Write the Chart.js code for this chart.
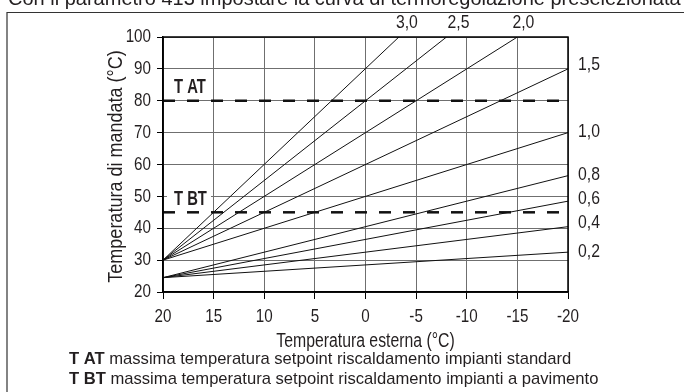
<!DOCTYPE html>
<html>
<head>
<meta charset="utf-8">
<script src="https://cdn.jsdelivr.net/npm/chart.js@4/dist/chart.umd.min.js"></script>
<style>
  html, body { margin: 0; padding: 0; background: #fff; }
  canvas { display: block; }
</style>
</head>
<body>
<canvas id="curveChart" width="684" height="392"></canvas>
<script>
// curve parameter, supply temp at +20 °C outside, and where each curve leaves the plot
const curveParams = ['3,0', '2,5', '2,0', '1,5', '1,0', '0,8', '0,6', '0,4', '0,2'];
const curveStart = [30, 30, 30, 30, 30, 24.5, 24.5, 24.5, 24.5];
const curveEndExt = [-3.3, -8, -15, -20, -20, -20, -20, -20, -20];
const curveEndMandata = [100, 100, 100, 90, 70, 56.5, 48.5, 40.5, 32.5];
const startExt = 20;

const limitNames = ['T AT', 'T BT'];
const limitValues = [80, 45];

const extTicks = [20, 15, 10, 5, 0, -5, -10, -15, -20];
const mandataTicks = [20, 30, 40, 50, 60, 70, 80, 90, 100];

const legendLines = [
    ['T AT', ' massima temperatura setpoint riscaldamento impianti standard'],
    ['T BT', ' massima temperatura setpoint riscaldamento impianti a pavimento']
];

const FONT = "'Liberation Sans', Arial, sans-serif";
const INK = '#231f20';

// no Arial Narrow installed, so squeeze the regular face around (x, y)
function narrowText(ctx, text, x, y, align, sx) {
    ctx.save();
    ctx.translate(x, y);
    ctx.scale(sx, 1);
    ctx.textAlign = align;
    ctx.fillText(text, 0, 0);
    ctx.restore();
}

const datasets = curveParams.map((p, i) => ({
    label: p,
    data: [{ x: startExt, y: curveStart[i] }, { x: curveEndExt[i], y: curveEndMandata[i] }],
    borderColor: '#111',
    borderWidth: 1,
    pointRadius: 0,
    tension: 0
}));
limitNames.forEach((name, i) => {
    datasets.push({
        label: name,
        data: [{ x: extTicks[0], y: limitValues[i] }, { x: extTicks[extTicks.length - 1], y: limitValues[i] }],
        borderColor: '#111',
        borderWidth: 2.5,
        borderDash: [12, 12],
        pointRadius: 0
    });
});

const extras = {
    id: 'extras',
    beforeDatasetsDraw(chart) {
        const { ctx, scales: { y } } = chart;
        // T AT / T BT labels, T BT sits on a white patch over the 50 grid line
        ctx.save();
        ctx.font = 'bold 20px ' + FONT;
        ctx.textBaseline = 'middle';
        ctx.fillStyle = '#fff';
        ctx.fillRect(167, y.getPixelForValue(limitValues[1]) - 23, 44, 19);
        ctx.fillStyle = INK;
        narrowText(ctx, limitNames[0], 174, y.getPixelForValue(limitValues[0]) - 13, 'left', 0.74);
        narrowText(ctx, limitNames[1], 174, y.getPixelForValue(limitValues[1]) - 13, 'left', 0.74);
        ctx.restore();
    },
    afterDraw(chart) {
        const { ctx, chartArea: a, scales: { x, y } } = chart;
        ctx.save();
        // plot frame (top/right in black)
        ctx.strokeStyle = '#000';
        ctx.lineWidth = 1.5;
        ctx.strokeRect(a.left, a.top, a.right - a.left, a.bottom - a.top);

        // outer page frame: top and left only
        ctx.strokeStyle = '#333';
        ctx.lineWidth = 1.2;
        ctx.beginPath();
        ctx.moveTo(7, 392); ctx.lineTo(7, 12.5); ctx.lineTo(684, 12.5);
        ctx.stroke();

        ctx.fillStyle = INK;
        // heading cut off by the top of the page
        ctx.font = '20px ' + FONT;
        ctx.textBaseline = 'alphabetic';
        ctx.textAlign = 'left';
        ctx.fillText('Con il parametro 413 impostare la curva di termoregolazione preselezionata', 8, 5);

        // tick labels
        ctx.font = '19px ' + FONT;
        ctx.textBaseline = 'middle';
        mandataTicks.forEach(v => narrowText(ctx, String(v), 151, y.getPixelForValue(v), 'right', 0.8));
        extTicks.forEach(v => narrowText(ctx, String(v), x.getPixelForValue(v), 317, 'center', 0.8));

        // curve labels
        const topDx = [8, 12, 6];
        const rightDy = [-4, -1, -1, -2, -4, 0];
        let t = 0, r = 0;
        curveParams.forEach((p, i) => {
            if (curveEndMandata[i] >= y.max) {
                narrowText(ctx, p, x.getPixelForValue(curveEndExt[i]) + topDx[t++], 23, 'center', 0.83);
            } else {
                narrowText(ctx, p, a.right + 10, y.getPixelForValue(curveEndMandata[i]) + rightDy[r++], 'left', 0.83);
            }
        });

        // axis titles
        ctx.font = '20px ' + FONT;
        narrowText(ctx, 'Temperatura esterna (°C)', (a.left + a.right) / 2, 341, 'center', 0.79);
        ctx.save();
        ctx.translate(116, (a.top + a.bottom) / 2 + 2);
        ctx.rotate(-Math.PI / 2);
        narrowText(ctx, 'Temperatura di mandata (°C)', 0, 0, 'center', 0.9);
        ctx.restore();

        // legend under the chart
        ctx.textAlign = 'left';
        legendLines.forEach(([bold, rest], i) => {
            const ly = 359 + i * 20;
            ctx.font = 'bold 16.6px ' + FONT;
            ctx.fillText(bold, 69, ly);
            const w = ctx.measureText(bold).width;
            ctx.font = '16.6px ' + FONT;
            ctx.fillText(rest, 69 + w, ly);
        });
        ctx.restore();
    }
};

new Chart(document.getElementById('curveChart'), {
    type: 'line',
    data: { datasets: datasets },
    options: {
        responsive: false,
        animation: false,
        layout: { padding: { left: 0, top: 37, right: 116, bottom: 0 } },
        plugins: { legend: { display: false }, tooltip: { enabled: false } },
        scales: {
            x: {
                type: 'linear',
                reverse: true,
                min: -20,
                max: 20,
                afterBuildTicks: (s) => { s.ticks = extTicks.map(v => ({ value: v })); },
                afterFit: (s) => { s.height = 100; },
                grid: { color: '#6f6f6f', lineWidth: 1, tickLength: 7, tickColor: '#000' },
                border: { color: '#000', width: 1.5 },
                // labels are drawn condensed by the plugin
                ticks: { color: 'rgba(0,0,0,0)', font: { size: 18 }, padding: 6, maxRotation: 0 }
            },
            y: {
                type: 'linear',
                min: 20,
                max: 100,
                afterBuildTicks: (s) => { s.ticks = mandataTicks.map(v => ({ value: v })); },
                afterFit: (s) => { s.width = 163; },
                grid: { color: '#6f6f6f', lineWidth: 1, tickLength: 6, tickColor: '#000' },
                border: { color: '#000', width: 1.5 },
                ticks: { color: 'rgba(0,0,0,0)', font: { size: 18 }, padding: 6 }
            }
        }
    },
    plugins: [extras]
});
</script>
</body>
</html>
